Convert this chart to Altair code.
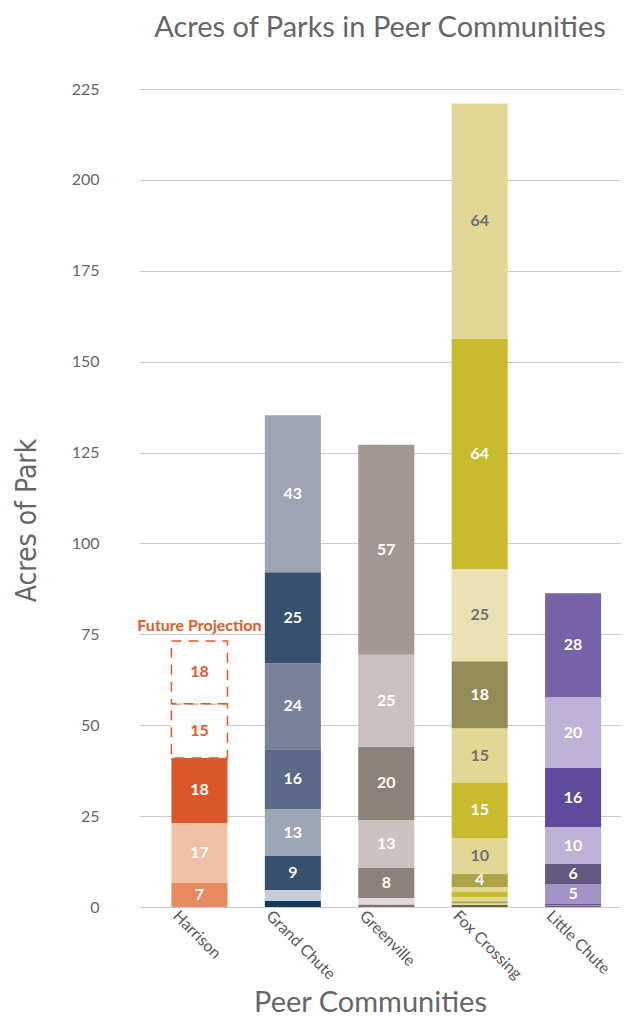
import altair as alt
import pandas as pd

communities = ["Harrison", "Grand Chute", "Greenville", "Fox Crossing", "Little Chute"]

# Segment acres, bottom to top
harrison_acres = [6.6, 16.5, 17.9]
harrison_labels = ["7", "17", "18"]
harrison_future_acres = [14.9, 17.3]
harrison_future_labels = ["15", "18"]

grand_chute_acres = [1.65, 3.0, 9.35, 12.9, 16.5, 23.65, 25.0, 43.2]
grand_chute_labels = ["", "", "9", "13", "16", "24", "25", "43"]

greenville_acres = [0.7, 1.8, 8.25, 13.2, 20.1, 25.3, 57.8]
greenville_labels = ["", "", "8", "13", "20", "25", "57"]

fox_crossing_acres = [0.6, 0.45, 0.55, 1.1, 1.4, 1.4, 3.6, 9.9, 15.1, 15.1, 18.4, 25.3, 63.5, 64.6]
fox_crossing_labels = ["", "", "", "", "", "", "4", "10", "15", "15", "18", "25", "64", "64"]

little_chute_acres = [0.25, 0.3, 0.25, 0.3, 5.2, 5.5, 10.2, 16.2, 19.5, 28.6]
little_chute_labels = ["", "", "", "", "5", "6", "10", "16", "20", "28"]

y_ticks = [0, 25, 50, 75, 100, 125, 150, 175, 200, 225]

# Styles
W, G = "#ffffff", "#707070"
harrison_colors = ["#E8895F", "#F1BFA3", "#DB572A"]
harrison_text = [W, W, W]
grand_chute_colors = ["#0D3A5E", "#C8CBD4", "#37506D", "#9EA5B6", "#5B6A88", "#7A8199", "#37506D", "#9EA3B5"]
grand_chute_text = [W] * 8
greenville_colors = ["#7F716D", "#E0DBD9", "#8C807B", "#CAC2C0", "#8C807B", "#C9C1BF", "#A39894"]
greenville_text = [W] * 7
fox_crossing_colors = ["#6B6840", "#E2D794", "#ADA348", "#E2D794", "#C9BB2E", "#E2D794", "#ADA348",
                       "#E2D794", "#C9BB2E", "#E2D794", "#928C57", "#EAE2B3", "#C9BB2E", "#E2D794"]
fox_crossing_text = [W, W, W, W, W, W, W, G, W, G, W, G, W, G]
little_chute_colors = ["#62587F", "#A393C8", "#62587F", "#A393C8", "#A393C8", "#625880", "#BDB1D8",
                       "#5F4A9E", "#BDB1D8", "#7762A8"]
little_chute_text = [W] * 10
future_color = "#E05A2B"

def build(name, acres, labels, colors, tcolors, start=0.0):
    rows = []
    s = start
    for a, l, c, t in zip(acres, labels, colors, tcolors):
        rows.append(dict(community=name, start=s, end=s + a, mid=s + a / 2, label=l, color=c, tcolor=t))
        s += a
    return rows

rows = []
rows += build("Harrison", harrison_acres, harrison_labels, harrison_colors, harrison_text)
rows += build("Grand Chute", grand_chute_acres, grand_chute_labels, grand_chute_colors, grand_chute_text)
rows += build("Greenville", greenville_acres, greenville_labels, greenville_colors, greenville_text)
rows += build("Fox Crossing", fox_crossing_acres, fox_crossing_labels, fox_crossing_colors, fox_crossing_text)
rows += build("Little Chute", little_chute_acres, little_chute_labels, little_chute_colors, little_chute_text)
df = pd.DataFrame(rows)

fut = pd.DataFrame(build("Harrison", harrison_future_acres, harrison_future_labels,
                         [W] * 2, [future_color] * 2, start=sum(harrison_acres)))
ann = pd.DataFrame([dict(community="Harrison", y=fut["end"].max(), text="Future Projection")])

xscale = alt.Scale(domain=communities, paddingInner=0.4, paddingOuter=0.28, align=0.62)
yscale = alt.Scale(domain=[0, 225], nice=False)

x = alt.X("community:N", scale=xscale, sort=communities,
          axis=alt.Axis(title="Peer Communities", labelAngle=45, labelAlign="left", labelBaseline="middle",
                        labelOffset=-24, labelPadding=6, ticks=False, domain=False,
                        labelFont="Lato", labelFontSize=16, labelColor="#595959",
                        titleFont="Lato", titleFontSize=29, titleFontWeight="normal", titleColor="#666666",
                        titleX=231, titleY=104, titleAlign="center", titleBaseline="alphabetic"))
y = alt.Y("start:Q", scale=yscale,
          axis=alt.Axis(title="Acres of Park", values=y_ticks, ticks=False, tickSize=0, domain=False,
                        labelPadding=40, labelFont="Lato", labelFontSize=16, labelColor="#666666",
                        gridColor="#cccccc", gridWidth=1,
                        titleFont="DejaVu Sans Condensed, Open Sans, sans-serif", titleFontSize=28,
                        titleFontWeight="normal", titleColor="#666666",
                        titleAngle=-90, titleX=-104, titleY=431, titleAlign="center",
                        titleBaseline="alphabetic"))

bars = alt.Chart(df).mark_bar().encode(x=x, y=y, y2="end:Q", color=alt.Color("color:N", scale=None))

future = alt.Chart(fut).mark_bar(fill="#ffffff", stroke=future_color, strokeWidth=1.5,
                                 strokeDash=[10, 7]).encode(
    x=alt.X("community:N", scale=xscale, sort=communities),
    y=alt.Y("start:Q", scale=yscale), y2="end:Q")

lab_df = pd.concat([df, fut])
lab_df = lab_df[lab_df["label"] != ""]
texts = alt.Chart(lab_df).mark_text(font="Lato", fontSize=16, fontWeight="bold", baseline="middle").encode(
    x=alt.X("community:N", scale=xscale, sort=communities),
    y=alt.Y("mid:Q", scale=yscale),
    text="label:N",
    color=alt.Color("tcolor:N", scale=None))

annot = alt.Chart(ann).mark_text(font="Lato", fontSize=16, fontWeight="bold", color=future_color,
                                 baseline="bottom", dy=-7).encode(
    x=alt.X("community:N", scale=xscale, sort=communities),
    y=alt.Y("y:Q", scale=yscale),
    text="text:N")

chart = alt.layer(bars, future, texts, annot).properties(
    width=482, height=818,
    padding={"left": 131, "top": 81, "right": 0, "bottom": 110},
    autosize="none",
    title=alt.TitleParams("Acres of Parks in Peer Communities", font="Lato", fontSize=29,
                          fontWeight="normal", color="#666666", anchor="middle", offset=38),
).configure_view(stroke=None)

chart.save("out.html", embed_options={"renderer": "svg", "actions": False})
